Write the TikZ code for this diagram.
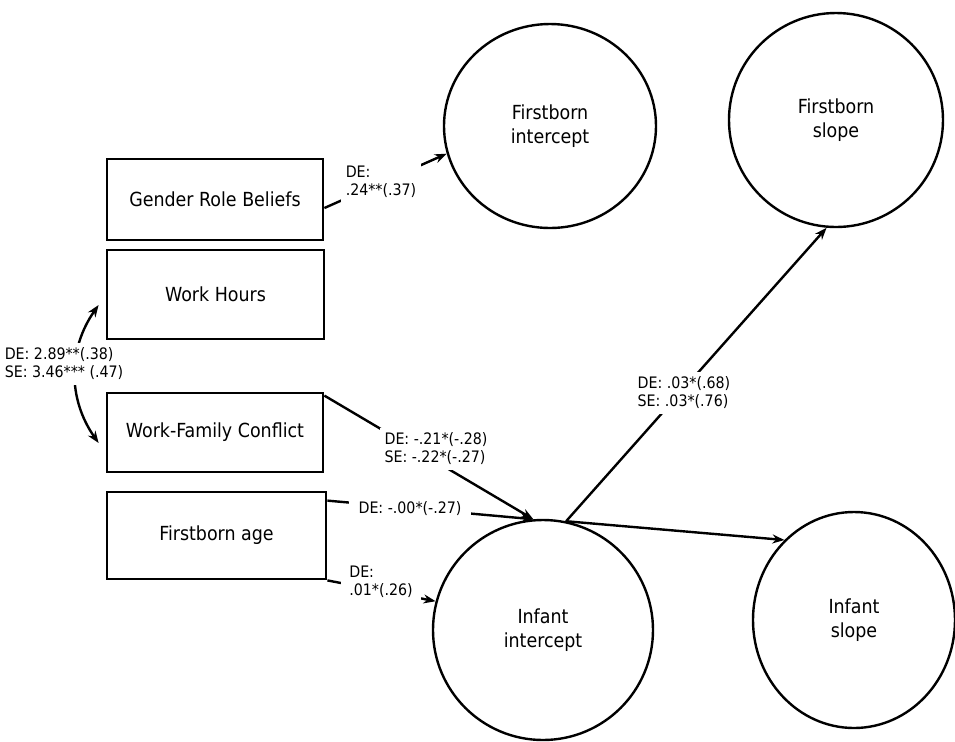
\documentclass[tikz,border=0pt]{standalone}
\usepackage{fontspec}
\setmainfont{DejaVu Sans Condensed}
\usetikzlibrary{arrows.meta,shapes.geometric}

\begin{document}
\begin{tikzpicture}[x=0.5pt,y=-0.5pt,
    box/.style={draw,line width=1.4pt,inner sep=0pt,font=\fontsize{9.7}{12}\selectfont},
    lat/.style={ellipse,draw,line width=1.2pt,inner sep=0pt,align=center,font=\fontsize{9.7}{12}\selectfont},
    lab/.style={fill=white,inner sep=2.5pt,align=left,font=\fontsize{7.9}{9}\selectfont},
    tip/.style={Stealth[length=6pt,width=4.5pt]},
    arr/.style={line width=1.2pt,-{Stealth[length=6pt,width=4.5pt]}}
]
    \useasboundingbox (0,0) rectangle (955,741);
    \node[box,minimum width=108pt,minimum height=40.5pt] (gen) at (215,199.5) {Gender Role Beliefs};
    \node[box,minimum width=108.5pt,minimum height=44.5pt] (hours) at (215.5,294.5) {Work Hours};
    \node[box,minimum width=108pt,minimum height=39.5pt] (wfc) at (215,432.5) {Work-Family Conflict};
    \node[box,minimum width=109.5pt,minimum height=43.5pt] (age) at (216.5,535.5) {Firstborn age};

    \node[lat,minimum width=106pt,minimum height=102pt] (fbint) at (550,126) {Firstborn\\intercept};
    \node[lat,minimum width=107pt,minimum height=107pt] (fbslope) at (836,120) {Firstborn\\slope};
    \node[lat,minimum width=110pt,minimum height=110pt] (infint) at (543,630) {Infant\\intercept};
    \node[lat,minimum width=101pt,minimum height=108pt] (infslope) at (854,620) {Infant\\slope};

    \draw[arr] ([yshift=-4.25pt]gen.east) -- (fbint.195);
    \draw[line width=1.2pt,{Stealth[length=6pt,width=4.5pt]}-{Stealth[length=6pt,width=4.5pt]}]
        ([shift={(-7,10.5)}]hours.west) to[bend right=35] ([shift={(-7,10.5)}]wfc.west);
    \draw[arr] ([yshift=-2pt]wfc.north east) -- (infint.95);
    \draw[arr] ([yshift=-5pt]age.north east) -- (infint.95);
    \draw[arr] (age.south east) -- (infint.165);
    \draw[arr] (infint.78) -- (infslope.131);
    \draw[arr] (infint.78) -- (fbslope.265);

    \node[lab] (genlab) at (381,182) {DE:\\.24**(.37)};
    \node[lab] (covlab) at (64,364) {DE: 2.89**(.38)\\SE: 3.46*** (.47)};
    \node[lab] (wfclab) at (436,449) {DE: -.21*(-.28)\\SE: -.22*(-.27)};
    \node[lab,inner sep=5pt] (agelab) at (410,509) {DE: -.00*(-.27)};
    \node[lab,inner sep=4pt] (agelab2) at (381,582) {DE:\\.01*(.26)};
    \node[lab] (slopelab) at (684,393) {DE: .03*(.68)\\SE: .03*(.76)};
\end{tikzpicture}
\end{document}
